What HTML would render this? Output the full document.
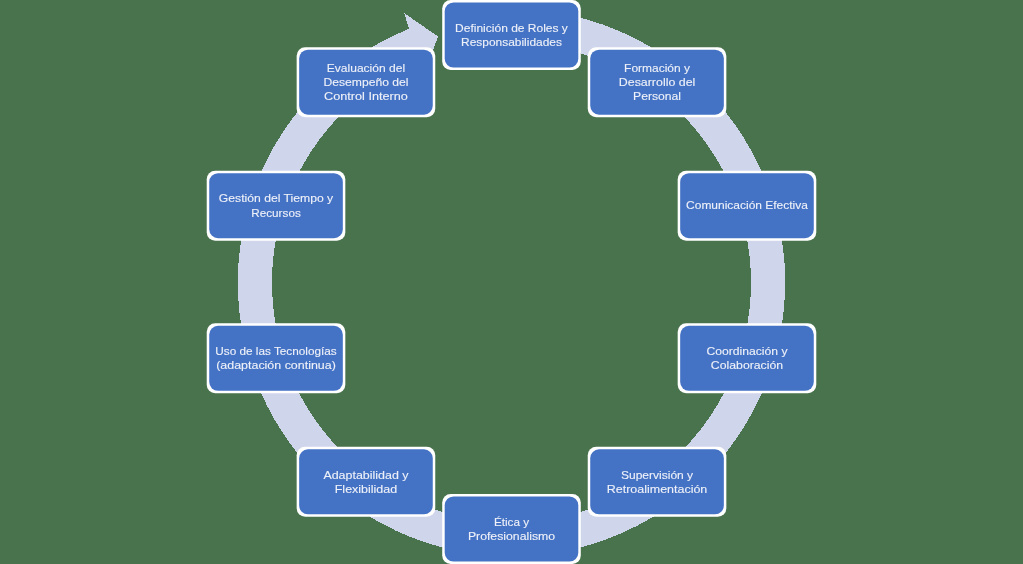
<!DOCTYPE html>
<html><head><meta charset="utf-8"><style>
html,body{margin:0;padding:0;background:#48734D;width:1023px;height:564px;overflow:hidden;font-family:"Liberation Sans",sans-serif;}
svg{display:block;will-change:transform}
</style></head><body>
<svg width="1023" height="564" viewBox="0 0 1023 564"><rect x="0" y="0" width="1023" height="564" fill="#48734D"/>
<path d="M 521.05 9.07 A 273.7 273.7 0 1 1 408.97 28.83 L 404.30 13.20 L 438.00 36.50 L 423.28 76.72 L 421.78 60.54 A 239.5 239.5 0 1 0 519.86 43.25 Z" fill="#CFD5EA" shape-rendering="crispEdges"/>
<rect x="442.20" y="0.00" width="138.60" height="70.00" rx="8.50" fill="#fff"/>
<rect x="444.70" y="2.50" width="133.60" height="65.00" rx="8.80" fill="#4472C4"/>
<rect x="587.74" y="47.17" width="138.60" height="70.00" rx="8.50" fill="#fff"/>
<rect x="590.24" y="49.67" width="133.60" height="65.00" rx="8.80" fill="#4472C4"/>
<rect x="677.68" y="170.67" width="138.60" height="70.00" rx="8.50" fill="#fff"/>
<rect x="680.18" y="173.17" width="133.60" height="65.00" rx="8.80" fill="#4472C4"/>
<rect x="677.68" y="323.33" width="138.60" height="70.00" rx="8.50" fill="#fff"/>
<rect x="680.18" y="325.83" width="133.60" height="65.00" rx="8.80" fill="#4472C4"/>
<rect x="587.74" y="446.83" width="138.60" height="70.00" rx="8.50" fill="#fff"/>
<rect x="590.24" y="449.33" width="133.60" height="65.00" rx="8.80" fill="#4472C4"/>
<rect x="442.20" y="494.00" width="138.60" height="70.00" rx="8.50" fill="#fff"/>
<rect x="444.70" y="496.50" width="133.60" height="65.00" rx="8.80" fill="#4472C4"/>
<rect x="296.66" y="446.83" width="138.60" height="70.00" rx="8.50" fill="#fff"/>
<rect x="299.16" y="449.33" width="133.60" height="65.00" rx="8.80" fill="#4472C4"/>
<rect x="206.72" y="323.33" width="138.60" height="70.00" rx="8.50" fill="#fff"/>
<rect x="209.22" y="325.83" width="133.60" height="65.00" rx="8.80" fill="#4472C4"/>
<rect x="206.72" y="170.67" width="138.60" height="70.00" rx="8.50" fill="#fff"/>
<rect x="209.22" y="173.17" width="133.60" height="65.00" rx="8.80" fill="#4472C4"/>
<rect x="296.66" y="47.17" width="138.60" height="70.00" rx="8.50" fill="#fff"/>
<rect x="299.16" y="49.67" width="133.60" height="65.00" rx="8.80" fill="#4472C4"/>
<g font-family="Liberation Sans, sans-serif" font-size="11.6" fill="#EEF1F9" stroke="#EEF1F9" stroke-width="0.12" text-anchor="middle"><text x="511.50" y="31.77" textLength="112.8" lengthAdjust="spacingAndGlyphs">Definición de Roles y</text>
<text x="511.50" y="45.82" textLength="100.8" lengthAdjust="spacingAndGlyphs">Responsabilidades</text>
<text x="657.04" y="71.92" textLength="65.9" lengthAdjust="spacingAndGlyphs">Formación y</text>
<text x="657.04" y="85.97" textLength="76.5" lengthAdjust="spacingAndGlyphs">Desarrollo del</text>
<text x="657.04" y="100.02" textLength="48.0" lengthAdjust="spacingAndGlyphs">Personal</text>
<text x="746.98" y="209.47" textLength="121.8" lengthAdjust="spacingAndGlyphs">Comunicación Efectiva</text>
<text x="746.98" y="355.10" textLength="81.1" lengthAdjust="spacingAndGlyphs">Coordinación y</text>
<text x="746.98" y="369.15" textLength="72.3" lengthAdjust="spacingAndGlyphs">Colaboración</text>
<text x="657.04" y="478.60" textLength="72.2" lengthAdjust="spacingAndGlyphs">Supervisión y</text>
<text x="657.04" y="492.65" textLength="100.5" lengthAdjust="spacingAndGlyphs">Retroalimentación</text>
<text x="511.50" y="525.77" textLength="35.2" lengthAdjust="spacingAndGlyphs">Ética y</text>
<text x="511.50" y="539.82" textLength="87.2" lengthAdjust="spacingAndGlyphs">Profesionalismo</text>
<text x="365.96" y="478.60" textLength="85.1" lengthAdjust="spacingAndGlyphs">Adaptabilidad y</text>
<text x="365.96" y="492.65" textLength="62.4" lengthAdjust="spacingAndGlyphs">Flexibilidad</text>
<text x="276.02" y="355.10" textLength="121.3" lengthAdjust="spacingAndGlyphs">Uso de las Tecnologías</text>
<text x="276.02" y="369.15" textLength="119.6" lengthAdjust="spacingAndGlyphs">(adaptación continua)</text>
<text x="276.02" y="202.45" textLength="114.4" lengthAdjust="spacingAndGlyphs">Gestión del Tiempo y</text>
<text x="276.02" y="216.50" textLength="49.5" lengthAdjust="spacingAndGlyphs">Recursos</text>
<text x="365.96" y="71.92" textLength="78.3" lengthAdjust="spacingAndGlyphs">Evaluación del</text>
<text x="365.96" y="85.97" textLength="85.0" lengthAdjust="spacingAndGlyphs">Desempeño del</text>
<text x="365.96" y="100.02" textLength="83.8" lengthAdjust="spacingAndGlyphs">Control Interno</text></g></svg>
</body></html>
